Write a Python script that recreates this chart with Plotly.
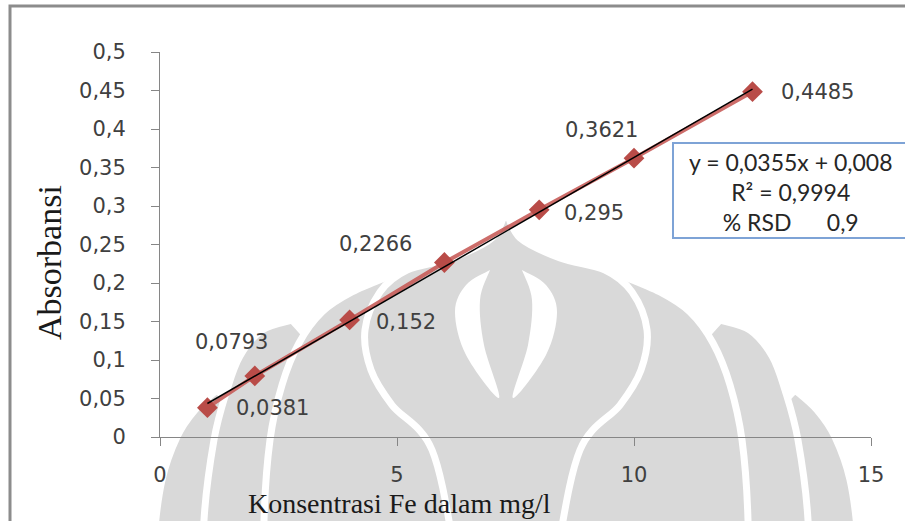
import plotly.graph_objects as go

# Calibration data: Fe concentration (mg/l) vs absorbance
conc = [1, 2, 4, 6, 8, 10, 12.5]
absorb = [0.0381, 0.0793, 0.152, 0.2266, 0.295, 0.3621, 0.4485]

# Linear fit reported for the calibration
slope = 0.0355
intercept = 0.008
r_squared = 0.9994
rsd_percent = 0.9

x_ticks = [0, 5, 10, 15]
y_ticks = [0, 0.05, 0.1, 0.15, 0.2, 0.25, 0.3, 0.35, 0.4, 0.45, 0.5]

# Pixel offsets of each point's value label
label_offsets = [(65, 0), (-23, 34), (56, -2), (-69, 19), (55, -3), (-33, 28), (65, 0)]

FIG_W, FIG_H = 905, 521
M_L, M_R, M_T, M_B = 160, 34, 52, 84
PLOT_W = FIG_W - M_L - M_R
PLOT_H = FIG_H - M_T - M_B


def fx(px):
    return (px - M_L) / PLOT_W


def fy(py):
    return (FIG_H - M_B - py) / PLOT_H


def p(pt):
    return f"{fx(pt[0]):.4f},{fy(pt[1]):.4f}"


def smooth(points):
    """Catmull-Rom curve through pixel points as cubic segments."""
    segs = []
    n = len(points)
    for i in range(n - 1):
        p0 = points[max(i - 1, 0)]
        p1 = points[i]
        p2 = points[i + 1]
        p3 = points[min(i + 2, n - 1)]
        c1 = (p1[0] + (p2[0] - p0[0]) / 6, p1[1] + (p2[1] - p0[1]) / 6)
        c2 = (p2[0] - (p3[0] - p1[0]) / 6, p2[1] - (p3[1] - p1[1]) / 6)
        segs.append(f"C {p(c1)} {p(c2)} {p(p2)}")
    return " ".join(segs)


def closed_path(points):
    return f"M {p(points[0])} " + smooth(points) + " Z"


CX = 506


def mirror(points):
    return [(2 * CX - x, y) for x, y in points]


fmt = lambda v: f"{v}".replace(".", ",")

fig = go.Figure()

# fitted straight line
fit_x = [conc[0], conc[-1]]
fit_y = [slope * x + intercept for x in fit_x]

fig.add_trace(go.Scatter(
    x=conc, y=absorb, mode="lines+markers",
    line=dict(color="rgba(196,84,80,0.85)", width=4),
    marker=dict(symbol="diamond", size=16, color="#b94c48"),
    showlegend=False, hoverinfo="x+y",
))
fig.add_trace(go.Scatter(
    x=fit_x, y=fit_y, mode="lines",
    line=dict(color="black", width=1.5),
    showlegend=False, hoverinfo="skip",
))

shapes = []
GRAY = "#d9d9d9"


def emblem_part(points, fill=GRAY, stroke=7):
    for pts in (points, mirror(points)):
        shapes.append(dict(type="path", xref="paper", yref="paper", layer="below",
                           path=closed_path(pts), fillcolor=fill,
                           line=dict(color="white", width=stroke)))


# faint emblem: nested leaves, outermost first
leaf_c = [(795, 390), (817, 410), (835, 437), (850, 480), (858, 540), (862, 640),
          (CX, 660), (700, 520), (760, 430), (795, 390)]
leaf_b = [(720, 320), (750, 330), (772, 356), (785, 390), (798, 440), (808, 520),
          (810, 640), (CX, 660), (640, 470), (690, 360), (720, 320)]
leaf_a = [(620, 275), (660, 292), (690, 312), (713, 343), (730, 385), (742, 440),
          (748, 520), (748, 640), (CX, 660), (590, 420), (605, 320), (620, 275)]
core = [(CX, 210), (520, 238), (560, 258), (605, 270), (632, 292), (647, 330),
        (641, 370), (620, 405), (580, 450), (556, 560), (540, 660), (CX, 670)]
for leaf in (leaf_c, leaf_b, leaf_a):
    emblem_part(leaf)
core_full = core + mirror(core[::-1])[1:]
shapes.append(dict(type="path", xref="paper", yref="paper", layer="below",
                   path=closed_path(core_full), fillcolor=GRAY,
                   line=dict(color="white", width=7)))
slit = [(CX + 16, 270), (CX + 40, 285), (CX + 51, 312), (CX + 40, 355), (CX + 7, 398),
        (CX + 22, 345), (CX + 26, 300), (CX + 16, 270)]
emblem_part(slit, fill="white", stroke=0)

# outer chart frame
shapes.append(dict(type="rect", xref="paper", yref="paper", layer="below",
                   x0=fx(10), x1=fx(960), y0=fy(600), y1=fy(6),
                   line=dict(color="#8c8c8c", width=3), fillcolor="rgba(0,0,0,0)"))

# box around the regression statistics
shapes.append(dict(type="rect", xref="paper", yref="paper", layer="above",
                   x0=fx(673), x1=fx(930), y0=fy(238), y1=fy(143),
                   line=dict(color="#7ea3d6", width=2), fillcolor="white"))

annotations = []
for x, y, (dx, dy) in zip(conc, absorb, label_offsets):
    annotations.append(dict(
        x=x, y=y, xref="x", yref="y", text=fmt(y), showarrow=False,
        xshift=dx, yshift=dy, xanchor="center", yanchor="middle",
        font=dict(family="DejaVu Sans", size=21, color="#404040"),
    ))

sp = "\u00a0"
eq_text = (f"y = {fmt(slope)}x + {fmt(intercept)}<br>"
           f"R² = {fmt(r_squared)}<br>"
           f"%{sp}RSD{sp * 6}{fmt(rsd_percent)}")
annotations.append(dict(
    x=fx(790), y=fy(192), xref="paper", yref="paper", text=eq_text,
    showarrow=False, xanchor="center", yanchor="middle", align="center",
    font=dict(family="Lato", size=23, color="#262626"),
))

annotations.append(dict(
    x=fx(49), y=fy(263), xref="paper", yref="paper", text="Absorbansi",
    showarrow=False, textangle=-90, xanchor="center", yanchor="middle",
    font=dict(family="Liberation Serif", size=34, color="#1a1a1a"),
))
annotations.append(dict(
    x=fx(399), y=fy(521), xref="paper", yref="paper",
    text="Konsentrasi Fe dalam mg/l",
    showarrow=False, xanchor="center", yanchor="bottom",
    font=dict(family="Liberation Serif", size=28, color="#1a1a1a"),
))

axis_common = dict(
    showgrid=False, zeroline=False, showline=True, linecolor="#868686",
    linewidth=1, ticks="outside", ticklen=8, tickcolor="#868686",
    tickfont=dict(family="DejaVu Sans", size=21, color="#404040"),
    automargin=False, fixedrange=True,
)

fig.update_layout(
    width=FIG_W, height=FIG_H,
    margin=dict(l=M_L, r=M_R, t=M_T, b=M_B, pad=0),
    paper_bgcolor="white", plot_bgcolor="rgba(0,0,0,0)",
    separators=",.",
    xaxis=dict(range=[0, 15], tickvals=x_ticks, ticklabelstandoff=11, **axis_common),
    yaxis=dict(range=[0, 0.5], tickvals=y_ticks, ticklabelstandoff=21, **axis_common),
    shapes=shapes, annotations=annotations,
)

fig.write_html("out.html")
